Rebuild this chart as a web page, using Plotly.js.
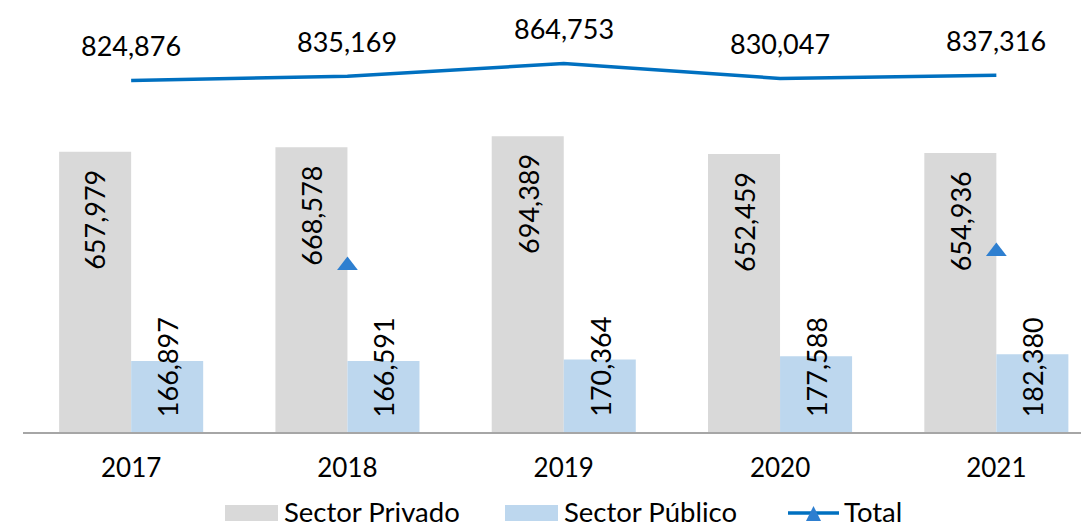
<!DOCTYPE html>
<html>
<head>
<meta charset="utf-8">
<script src="https://cdn.plot.ly/plotly-3.0.1.min.js"></script>
<style>html,body{margin:0;padding:0;background:#fff;}#chart{width:1081px;height:528px;}</style>
</head>
<body>
<div id="chart"></div>
<script>
const years = ['2017', '2018', '2019', '2020', '2021'];
const privado = [657979, 668578, 694389, 652459, 654936];
const publico = [166897, 166591, 170364, 177588, 182380];
const total = [824876, 835169, 864753, 830047, 837316];
// stray "Total" markers visible in the reference (2018 and 2021)
const strayYears = ['2018', '2021'];
const strayValues = [391000, 424000];
const seriesNames = ['Sector Privado', 'Sector Público', 'Total'];

const W = 1081, H = 528;
const M = {l: 23, r: 0, t: 6, b: 96};
const FONT = 'Lato, "Open Sans", sans-serif';
const grey = '#D9D9D9', blue = '#BDD7EE', lineC = '#0070C0', triC = '#2E7FD0';
const bargap = 0.334;
const barW = (1 - bargap) / 2;
const fmt = v => v.toLocaleString('en-US');

const px2paperX = p => (p - M.l) / (W - M.l - M.r);
const px2paperY = p => (H - M.b - p) / (H - M.t - M.b);

const traces = [
  {type: 'bar', x: years, y: privado, name: seriesNames[0], marker: {color: grey}, showlegend: false, hoverinfo: 'none'},
  {type: 'bar', x: years, y: publico, name: seriesNames[1], marker: {color: blue}, showlegend: false, hoverinfo: 'none'},
  {type: 'scatter', mode: 'lines', x: years, y: total, name: seriesNames[2], line: {color: lineC, width: 3.5}, showlegend: false, hoverinfo: 'none'},
  {type: 'scatter', mode: 'markers', x: strayYears, y: strayValues, marker: {symbol: 'triangle-up', size: 18, color: triC, line: {width: 0}}, showlegend: false, hoverinfo: 'none'}
];

const annotations = [];
years.forEach((yr, i) => {
  annotations.push({x: i, y: total[i], xref: 'x', yref: 'y', text: fmt(total[i]), showarrow: false,
    yanchor: 'middle', yshift: 35, font: {family: FONT, size: 27, color: '#000'}});
  annotations.push({x: i - barW / 2, y: privado[i], xref: 'x', yref: 'y', text: fmt(privado[i]), showarrow: false,
    textangle: -90, yanchor: 'top', yshift: -16, font: {family: FONT, size: 27, color: '#000'}});
  annotations.push({x: i + barW / 2, y: 0, xref: 'x', yref: 'y', text: fmt(publico[i]), showarrow: false,
    textangle: -90, yanchor: 'bottom', yshift: 13, font: {family: FONT, size: 27, color: '#000'}});
});

// custom legend
const shapes = [];
const legY = 511;
const legendItems = [
  {kind: 'rect', color: grey, x0: 225, x1: 278, tx: 282, name: seriesNames[0]},
  {kind: 'rect', color: blue, x0: 505, x1: 558, tx: 562, name: seriesNames[1]},
  {kind: 'line', color: lineC, x0: 788, x1: 839, tx: 842, name: seriesNames[2]}
];
legendItems.forEach(it => {
  if (it.kind === 'rect') {
    shapes.push({type: 'rect', xref: 'paper', yref: 'paper', x0: px2paperX(it.x0), x1: px2paperX(it.x1),
      y0: px2paperY(legY - 6), y1: px2paperY(legY + 10), fillcolor: it.color, line: {width: 0}});
  } else {
    shapes.push({type: 'line', xref: 'paper', yref: 'paper', x0: px2paperX(it.x0), x1: px2paperX(it.x1),
      y0: px2paperY(legY + 2), y1: px2paperY(legY + 2), line: {color: it.color, width: 3.5}});
    shapes.push({type: 'path', xref: 'paper', yref: 'paper',
      path: 'M ' + px2paperX(806) + ' ' + px2paperY(legY + 10) + ' L ' + px2paperX(821) + ' ' + px2paperY(legY + 10) +
            ' L ' + px2paperX(813.5) + ' ' + px2paperY(legY - 5) + ' Z',
      fillcolor: triC, line: {width: 0}});
  }
  annotations.push({xref: 'paper', yref: 'paper', x: px2paperX(it.tx), y: px2paperY(legY), xanchor: 'left', yanchor: 'middle',
    text: it.name, showarrow: false, font: {family: FONT, size: 27.5, color: '#000'}});
});

const layout = {
  width: W, height: H,
  margin: M,
  paper_bgcolor: '#fff', plot_bgcolor: '#fff',
  barmode: 'group', bargap: bargap, bargroupgap: 0,
  showlegend: false,
  font: {family: FONT, size: 25, color: '#000'},
  xaxis: {type: 'category', range: [-0.5, -0.5 + (W - M.l - M.r) / 216.3], showline: true, linecolor: '#A6A6A6', linewidth: 2,
    ticks: '', showgrid: false, zeroline: false, fixedrange: true, ticklabelstandoff: 12,
    tickfont: {family: FONT, size: 26, color: '#000'}},
  yaxis: {range: [0, 1000000], visible: false, showgrid: false, zeroline: false, fixedrange: true},
  annotations: annotations,
  shapes: shapes
};

Plotly.newPlot('chart', traces, layout, {displayModeBar: false, staticPlot: true});
</script>
</body>
</html>
